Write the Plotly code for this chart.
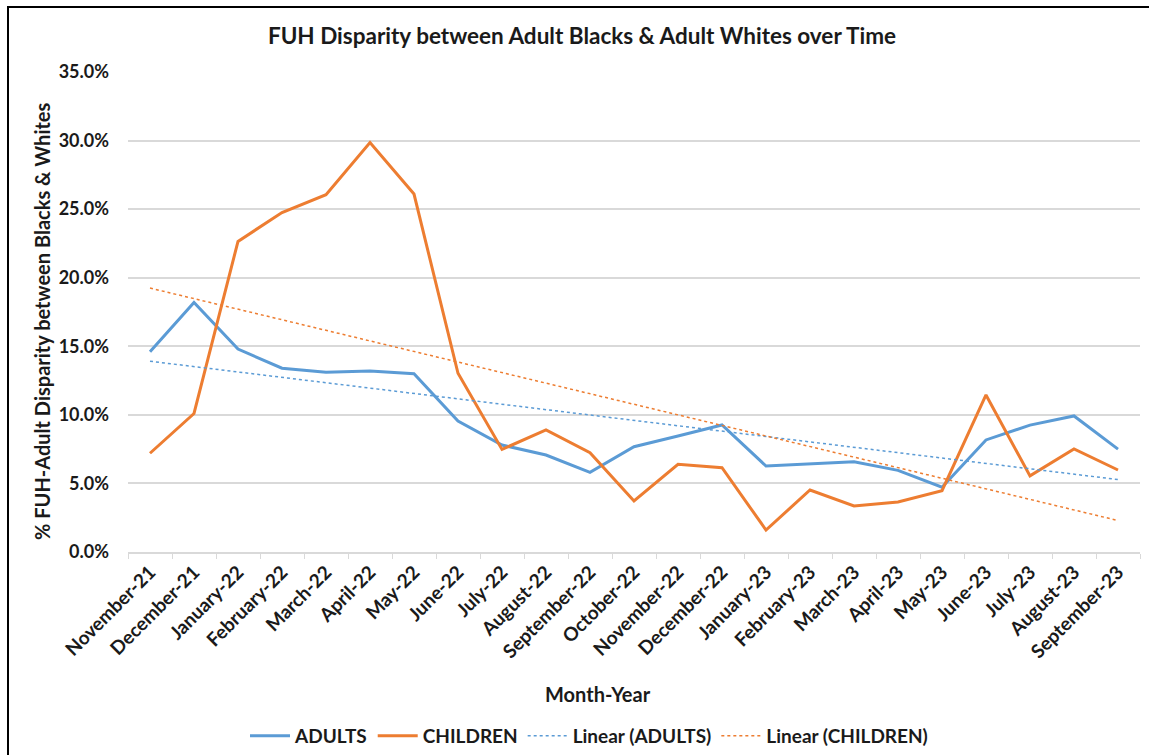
import numpy as np
import plotly.graph_objects as go

months = ["November-21", "December-21", "January-22", "February-22", "March-22", "April-22",
          "May-22", "June-22", "July-22", "August-22", "September-22", "October-22",
          "November-22", "December-22", "January-23", "February-23", "March-23", "April-23",
          "May-23", "June-23", "July-23", "August-23", "September-23"]

adults = [14.6, 18.2, 14.8, 13.4, 13.1, 13.2, 13.0, 9.55, 7.8, 7.07, 5.81, 7.68,
          8.46, 9.26, 6.27, 6.44, 6.58, 5.95, 4.72, 8.17, 9.25, 9.92, 7.5]
children = [7.2, 10.1, 22.65, 24.75, 26.05, 29.86, 26.1, 13.03, 7.48, 8.9, 7.24, 3.72,
            6.39, 6.15, 1.6, 4.52, 3.36, 3.65, 4.47, 11.45, 5.55, 7.51, 5.98]

adults_f = [v / 100 for v in adults]
children_f = [v / 100 for v in children]

idx = np.arange(len(months))
pa = np.polyfit(idx, adults_f, 1)
pc = np.polyfit(idx, children_f, 1)
trend_a = np.polyval(pa, idx)
trend_c = np.polyval(pc, idx)

BLUE = "#5B9BD5"
ORANGE = "#ED7D31"
FONT = "Lato"

fig = go.Figure()
fig.add_trace(go.Scatter(x=months, y=adults_f, mode="lines", name="ADULTS",
                         line=dict(color=BLUE, width=3)))
fig.add_trace(go.Scatter(x=months, y=children_f, mode="lines", name="CHILDREN",
                         line=dict(color=ORANGE, width=3)))
fig.add_trace(go.Scatter(x=months, y=trend_a, mode="lines", name="Linear (ADULTS)",
                         line=dict(color=BLUE, width=1.5, dash="dot")))
fig.add_trace(go.Scatter(x=months, y=trend_c, mode="lines", name="Linear (CHILDREN)",
                         line=dict(color=ORANGE, width=1.5, dash="dot")))

L, R, T, B = 128, 9, 72, 203
W, H = 1149, 755
pw, ph = W - L - R, H - T - B

def px_x(p):
    return (p - L) / pw

def px_y(p):
    return (H - B - p) / ph

fig.update_layout(
    width=W, height=H,
    margin=dict(l=L, r=R, t=T, b=B, autoexpand=False),
    paper_bgcolor="white", plot_bgcolor="white",
    font=dict(family=FONT, color="#1a1a1a", weight="bold"),
    title=dict(text="FUH Disparity between Adult Blacks & Adult Whites over Time",
               x=px_x(582), xref="paper", xanchor="center", y=1 - 36 / H, yanchor="middle",
               font=dict(size=22.5, family=FONT, color="#1a1a1a", weight="bold")),
    xaxis=dict(type="category", tickangle=-45, tickfont=dict(size=19, weight="bold"),
               showgrid=False, showline=True, linecolor="#d9d9d9", linewidth=1.5,
               ticks="outside", tickson="boundaries", ticklen=5, tickcolor="#d9d9d9",
               range=[-0.5, len(months) - 0.5], automargin=False),
    yaxis=dict(range=[0, 0.35], dtick=0.05, tickformat=".1%",
               tickfont=dict(size=18, weight="bold"), automargin=False,
               showgrid=True, gridcolor="#d9d9d9", gridwidth=1.5,
               zeroline=False, showline=False, ticks="", ticklabelstandoff=18),
    legend=dict(orientation="h", x=px_x(589), xanchor="center", y=px_y(736), yanchor="middle",
                font=dict(size=19, weight="bold"), itemwidth=40,
                traceorder="normal"),
    showlegend=True,
    annotations=[
        dict(text="Month-Year", x=px_x(598), y=px_y(694), xref="paper", yref="paper",
             showarrow=False, font=dict(size=20, weight="bold"), yanchor="middle"),
        dict(text="% FUH-Adult Disparity between Blacks & Whites", x=px_x(42), y=px_y(321),
             xref="paper", yref="paper", showarrow=False, textangle=-90,
             font=dict(size=20, weight="bold"), xanchor="center", yanchor="middle"),
    ],
    shapes=[
        dict(type="rect", xref="paper", yref="paper",
             x0=px_x(8), x1=px_x(1160), y0=px_y(770), y1=px_y(7),
             line=dict(color="black", width=2), fillcolor="rgba(0,0,0,0)", layer="below"),
    ],
)

fig.write_html("out.html")
